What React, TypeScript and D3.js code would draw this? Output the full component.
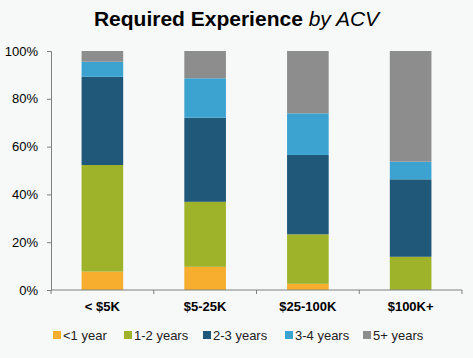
import React, { useRef, useEffect } from 'react';
import * as d3 from 'd3';

// categories and series (percent of postings)
const categories = ['< $5K', '$5-25K', '$25-100K', '$100K+'];
const seriesNames = ['<1 year', '1-2 years', '2-3 years', '3-4 years', '5+ years'];
const lessThan1 = [7.7, 9.7, 2.6, 0];
const oneToTwo = [44.6, 27.2, 20.7, 13.9];
const twoToThree = [36.9, 35.2, 33.2, 32.4];
const threeToFour = [6.3, 16.5, 17.4, 7.4];
const fivePlus = [4.5, 11.4, 26.1, 46.3];
const yTicks = [0, 20, 40, 60, 80, 100];

const colors = ['#F7AD2E', '#9EB22A', '#1F5879', '#3CA3D0', '#8D8D8D'];

const width = 473;
const height = 358;

const App: React.FC = () => {
  const ref = useRef<SVGSVGElement>(null);

  useEffect(() => {
    if (!ref.current) return;
    const svg = d3.select(ref.current);
    svg.selectAll('*').remove();

    const margin = { top: 51, right: 11, bottom: 68, left: 51 };
    const innerW = width - margin.left - margin.right;
    const innerH = height - margin.top - margin.bottom;

    svg.append('rect').attr('width', width).attr('height', height).attr('fill', '#F7F8F8');

    // title
    const title = svg.append('text')
      .attr('x', width / 2)
      .attr('y', 26)
      .attr('text-anchor', 'middle')
      .attr('font-family', 'Arial, Liberation Sans, sans-serif')
      .attr('font-size', 21)
      .attr('fill', '#000');
    title.append('tspan').attr('font-weight', 'bold').text('Required Experience ');
    title.append('tspan').attr('font-style', 'italic').text('by ACV');

    const table = categories.map((c, i) => ({
      cat: c,
      '<1 year': lessThan1[i],
      '1-2 years': oneToTwo[i],
      '2-3 years': twoToThree[i],
      '3-4 years': threeToFour[i],
      '5+ years': fivePlus[i],
    }));
    const stack = d3.stack<any>().keys(seriesNames);
    const layers = stack(table);

    const x = d3.scaleBand().domain(categories).range([0, innerW]).paddingInner(0.595).paddingOuter(0.2975);
    const y = d3.scaleLinear().domain([0, 100]).range([innerH, 0]);

    const g = svg.append('g').attr('transform', `translate(${margin.left},${margin.top})`);

    g.selectAll('g.layer')
      .data(layers)
      .enter()
      .append('g')
      .attr('class', 'layer')
      .attr('fill', (_d, i) => colors[i])
      .selectAll('rect')
      .data(d => d)
      .enter()
      .append('rect')
      .attr('x', d => x(d.data.cat) as number)
      .attr('width', x.bandwidth())
      .attr('y', d => y(Math.min(d[1], 100)))
      .attr('height', d => Math.max(0, y(d[0]) - y(Math.min(d[1], 100))));

    // y axis
    const yAxis = g.append('g')
      .call(d3.axisLeft(y).tickValues(yTicks).tickSize(4).tickFormat(d => `${d}%`));
    yAxis.select('.domain').attr('stroke', '#808080');
    yAxis.selectAll('line').attr('stroke', '#808080');
    yAxis.selectAll('text')
      .attr('font-family', 'Arial, Liberation Sans, sans-serif')
      .attr('font-size', 13)
      .attr('fill', '#000')
      .attr('x', -13);

    // x axis with ticks at band boundaries
    const xAxis = g.append('g').attr('transform', `translate(0,${innerH})`);
    xAxis.append('line')
      .attr('x1', 0).attr('x2', innerW)
      .attr('stroke', '#808080');
    const step = x.step();
    const bounds = d3.range(categories.length + 1).map(i => i * step);
    xAxis.selectAll('line.tick')
      .data(bounds)
      .enter()
      .append('line')
      .attr('class', 'tick')
      .attr('x1', d => d).attr('x2', d => d)
      .attr('y1', 0).attr('y2', 4)
      .attr('stroke', '#808080');
    xAxis.selectAll('text')
      .data(categories)
      .enter()
      .append('text')
      .attr('x', d => (x(d) as number) + x.bandwidth() / 2)
      .attr('y', 21)
      .attr('text-anchor', 'middle')
      .attr('font-family', 'Arial, Liberation Sans, sans-serif')
      .attr('font-size', 13)
      .attr('font-weight', 'bold')
      .attr('fill', '#000')
      .text(d => d);

    // legend
    const legendX = [53, 124, 203, 285, 363];
    const legend = svg.append('g').attr('transform', 'translate(0,335)');
    const item = legend.selectAll('g')
      .data(seriesNames)
      .enter()
      .append('g')
      .attr('transform', (_d, i) => `translate(${legendX[i]},0)`);
    item.append('rect')
      .attr('x', 0).attr('y', -4)
      .attr('width', 8).attr('height', 8)
      .attr('fill', (_d, i) => colors[i]);
    item.append('text')
      .attr('x', 10)
      .attr('y', 5)
      .attr('font-family', 'Arial, Liberation Sans, sans-serif')
      .attr('font-size', 13)
      .attr('fill', '#222')
      .text(d => d);
  }, []);

  return (
    <svg
      ref={ref}
      width={width}
      height={height}
      style={{ position: 'absolute', left: 0, top: 0, display: 'block' }}
    />
  );
};

export default App;
